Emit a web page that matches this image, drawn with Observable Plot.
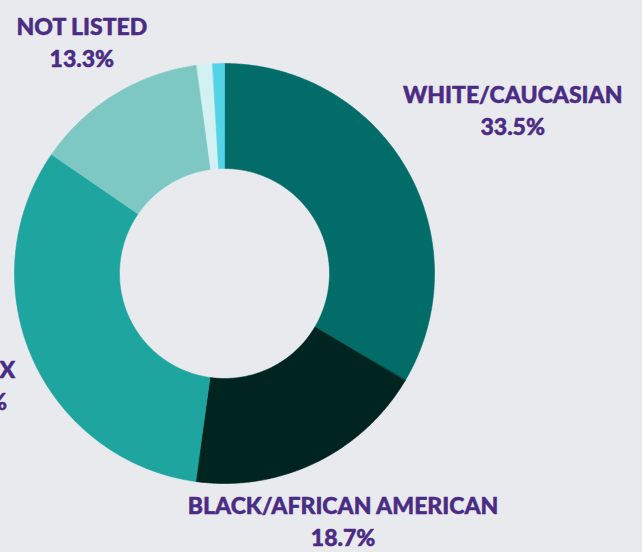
<!DOCTYPE html>
<html><head><meta charset="utf-8">
<script src="https://cdn.jsdelivr.net/npm/d3@7"></script>
<script src="https://cdn.jsdelivr.net/npm/@observablehq/plot@0.6"></script>
<style>
html,body{margin:0;padding:0;background:#e8eaee;overflow:hidden;}
#chart{width:642px;height:552px;}
</style></head><body><div id="chart"></div>
<script>
// Data (clockwise from 12 o'clock)
const categories = ["WHITE/CAUCASIAN", "BLACK/AFRICAN AMERICAN", "LATINX", "NOT LISTED", "ASIAN", "OTHER"];
const shares = [33.5, 18.7, 32.4, 13.3, 1.2, 0.9];
const labelled = ["WHITE/CAUCASIAN", "BLACK/AFRICAN AMERICAN", "LATINX", "NOT LISTED"];
const colors = ["#016c68", "#00241f", "#1ea59f", "#7ec8c4", "#d3f1f2", "#52d3e6"];

// Styling
const innerRatio = 0.5;
const labelDistance = {"WHITE/CAUCASIAN": 1.58};
const defaultLabelDistance = 1.3;

const total = d3.sum(shares);
const ends = d3.cumsum(shares);
const slices = categories.map((c, i) => {
  const a0 = 360 * (ends[i] - shares[i]) / total;
  const a1 = 360 * ends[i] / total;
  const n = Math.max(2, Math.ceil((a1 - a0) / 0.5));
  const innerLat = 90 - 90 * innerRatio;
  const outer = d3.range(n + 1).map(k => [180 - (a0 + (a1 - a0) * k / n), 0]);
  const inner = d3.range(n + 1).map(k => [180 - (a1 - (a1 - a0) * k / n), innerLat]);
  const coords = [...outer, ...inner, outer[0]];
  const f = {type: "Feature", properties: {category: c, share: shares[i], mid: (a0 + a1) / 2},
             geometry: {type: "Polygon", coordinates: [coords]}};
  if (d3.geoArea(f) > 2 * Math.PI) coords.reverse();
  return f;
});

const labels = slices.filter(f => labelled.includes(f.properties.category)).map(f => {
  const k = labelDistance[f.properties.category] ?? defaultLabelDistance;
  return {
    lon: 180 - f.properties.mid,
    lat: 90 - 90 * k,
    text: `${f.properties.category}\n${f.properties.share.toFixed(1)}%`
  };
});

const domainCircle = d3.geoCircle().center([0, 90]).radius(90)();

const chart = Plot.plot({
  width: 642,
  height: 552,
  marginLeft: 14,
  marginRight: 208,
  marginTop: 63,
  marginBottom: 69,
  style: {background: "transparent", fontFamily: "Lato, sans-serif", overflow: "visible"},
  projection: {type: "azimuthal-equidistant", rotate: [0, -90], domain: domainCircle, clip: false},
  color: {domain: categories, range: colors},
  marks: [
    Plot.geo(slices, {fill: d => d.properties.category, stroke: d => d.properties.category, strokeWidth: 0.6}),
    Plot.text(labels, {x: "lon", y: "lat", text: "text", fill: "#4b2c84", stroke: "#4b2c84", strokeWidth: 0.5,
      fontSize: 23, fontWeight: 900, lineHeight: 1.4, fontFamily: "Lato", letterSpacing: "0.2px"})
  ]
});
document.getElementById("chart").appendChild(chart);
</script>
</body></html>
